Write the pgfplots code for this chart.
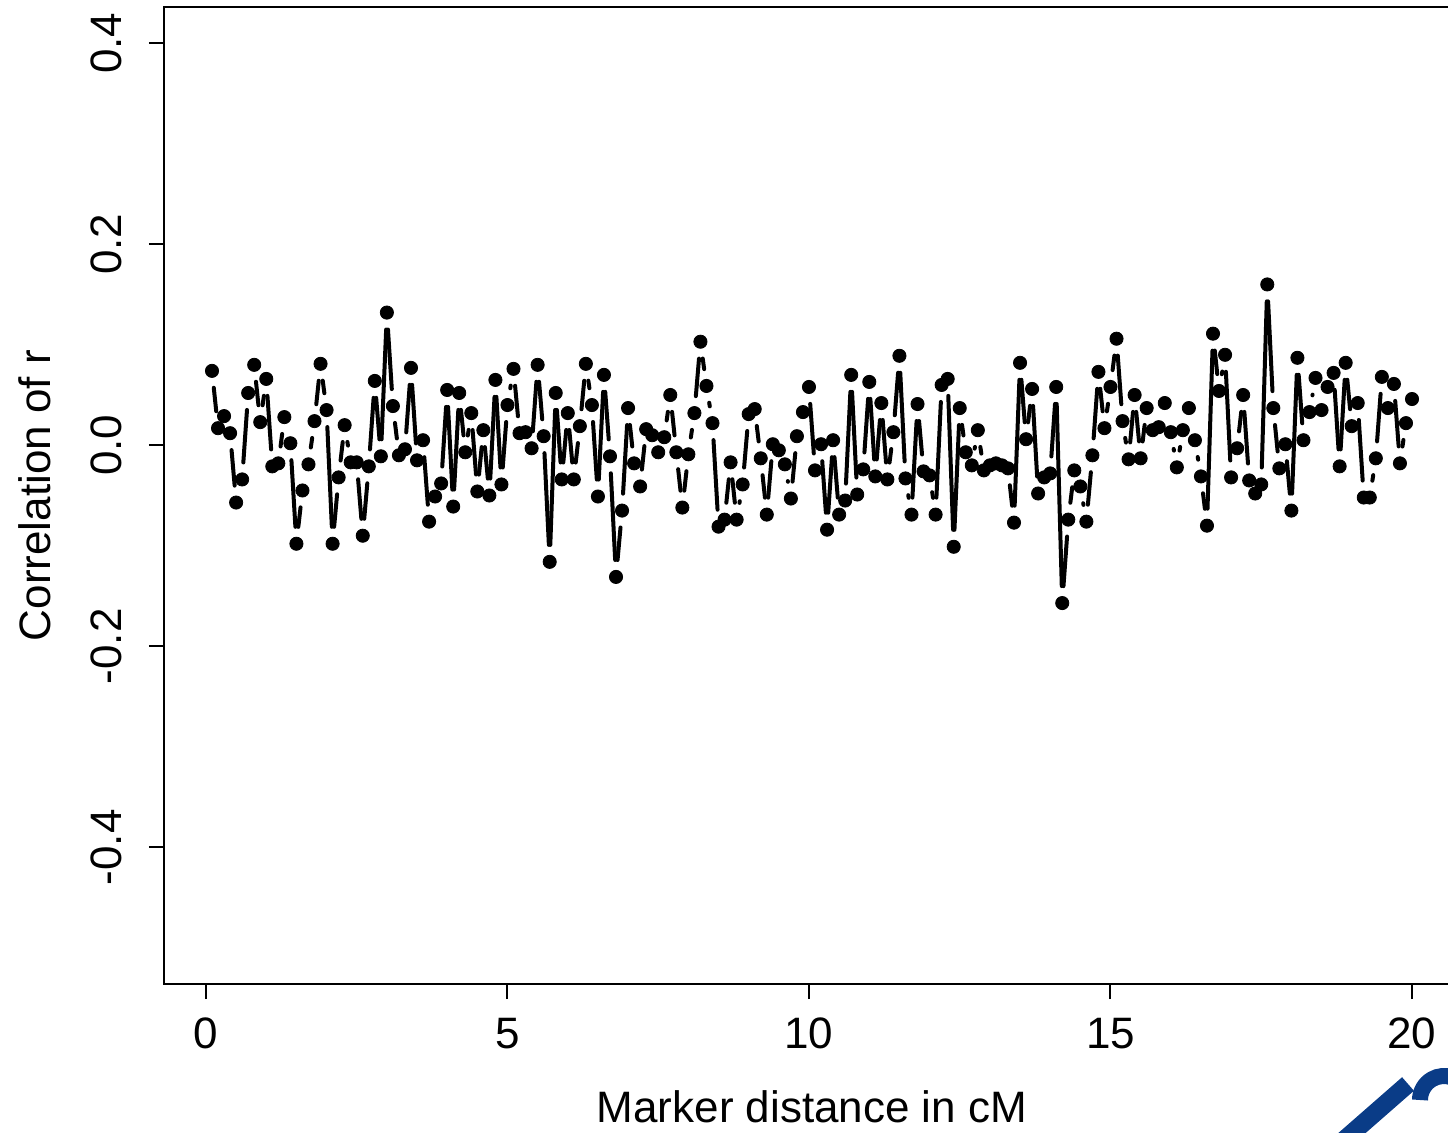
\documentclass[border=0pt]{standalone}
\usepackage{fontspec}
\setmainfont{Liberation Sans}
\usepackage{pgfplots}
\usepackage{pgfplotstable}
\pgfplotsset{compat=1.18}
\definecolor{logoblue}{RGB}{10,60,135}
\pgfplotstableread{
x y
0.1 0.074
0.2 0.017
0.3 0.029
0.4 0.012
0.5 -0.057
0.6 -0.034
0.7 0.052
0.8 0.080
0.9 0.023
1.0 0.066
1.1 -0.021
1.2 -0.018
1.3 0.028
1.4 0.002
1.5 -0.098
1.6 -0.045
1.7 -0.019
1.8 0.024
1.9 0.081
2.0 0.035
2.1 -0.098
2.2 -0.032
2.3 0.020
2.4 -0.017
2.5 -0.017
2.6 -0.090
2.7 -0.021
2.8 0.064
2.9 -0.011
3.0 0.132
3.1 0.039
3.2 -0.010
3.3 -0.004
3.4 0.077
3.5 -0.015
3.6 0.005
3.7 -0.076
3.8 -0.051
3.9 -0.038
4.0 0.055
4.1 -0.061
4.2 0.052
4.3 -0.007
4.4 0.032
4.5 -0.046
4.6 0.015
4.7 -0.050
4.8 0.065
4.9 -0.039
5.0 0.040
5.1 0.076
5.2 0.012
5.3 0.013
5.4 -0.003
5.5 0.080
5.6 0.009
5.7 -0.116
5.8 0.052
5.9 -0.034
6.0 0.032
6.1 -0.034
6.2 0.019
6.3 0.081
6.4 0.040
6.5 -0.051
6.6 0.070
6.7 -0.011
6.8 -0.131
6.9 -0.065
7.0 0.037
7.1 -0.018
7.2 -0.041
7.3 0.016
7.4 0.010
7.5 -0.007
7.6 0.008
7.7 0.050
7.8 -0.007
7.9 -0.062
8.0 -0.009
8.1 0.032
8.2 0.103
8.3 0.059
8.4 0.022
8.5 -0.081
8.6 -0.074
8.7 -0.017
8.8 -0.074
8.9 -0.039
9.0 0.031
9.1 0.036
9.2 -0.013
9.3 -0.069
9.4 0.001
9.5 -0.005
9.6 -0.019
9.7 -0.053
9.8 0.009
9.9 0.033
10.0 0.058
10.1 -0.025
10.2 0.001
10.3 -0.084
10.4 0.005
10.5 -0.069
10.6 -0.055
10.7 0.070
10.8 -0.049
10.9 -0.024
11.0 0.063
11.1 -0.031
11.2 0.042
11.3 -0.034
11.4 0.013
11.5 0.089
11.6 -0.033
11.7 -0.069
11.8 0.041
11.9 -0.026
12.0 -0.030
12.1 -0.069
12.2 0.060
12.3 0.066
12.4 -0.101
12.5 0.037
12.6 -0.007
12.7 -0.020
12.8 0.015
12.9 -0.025
13.0 -0.020
13.1 -0.018
13.2 -0.020
13.3 -0.023
13.4 -0.077
13.5 0.082
13.6 0.006
13.7 0.056
13.8 -0.048
13.9 -0.032
14.0 -0.028
14.1 0.058
14.2 -0.157
14.3 -0.074
14.4 -0.025
14.5 -0.041
14.6 -0.076
14.7 -0.010
14.8 0.073
14.9 0.017
15.0 0.058
15.1 0.106
15.2 0.024
15.3 -0.014
15.4 0.050
15.5 -0.013
15.6 0.037
15.7 0.015
15.8 0.018
15.9 0.042
16.0 0.013
16.1 -0.022
16.2 0.015
16.3 0.037
16.4 0.005
16.5 -0.031
16.6 -0.080
16.7 0.111
16.8 0.054
16.9 0.090
17.0 -0.032
17.1 -0.003
17.2 0.050
17.3 -0.035
17.4 -0.048
17.5 -0.039
17.6 0.160
17.7 0.037
17.8 -0.023
17.9 0.001
18.0 -0.065
18.1 0.087
18.2 0.005
18.3 0.033
18.4 0.067
18.5 0.035
18.6 0.058
18.7 0.072
18.8 -0.021
18.9 0.082
19.0 0.019
19.1 0.042
19.2 -0.052
19.3 -0.052
19.4 -0.013
19.5 0.068
19.6 0.037
19.7 0.061
19.8 -0.018
19.9 0.022
20.0 0.046
}\data
\begin{document}
\begin{tikzpicture}
\path[use as bounding box] (0,0) rectangle (724pt,566pt);
\clip (0,0) rectangle (724pt,566pt);
\begin{axis}[
  at={(82pt,74pt)}, anchor=south west,
  width=648pt, height=488.5pt, scale only axis,
  xmin=-0.696, xmax=20.796, ymin=-0.536, ymax=0.436,
  xtick={0,5,10,15,20}, xticklabels={0,5,10,15,20},
  ytick={-0.4,-0.2,0,0.2,0.4}, yticklabels={-0.4,-0.2,0.0,0.2,0.4},
  tick align=outside, major tick length=7.5pt,
  axis line style={line width=1pt},
  every tick/.style={line width=1pt, black},
  xtick pos=bottom, ytick pos=left,
  font=\fontsize{22}{26}\selectfont,
  tick label style={font=\fontsize{22}{26}\selectfont},
  xticklabel shift=6pt, yticklabel shift=10pt,
  yticklabel style={rotate=90, anchor=south},
  xlabel={Marker distance in cM}, ylabel={Correlation of r},
  xlabel style={at={(axis description cs:0.5,-0.1259)}, anchor=center},
  ylabel style={at={(axis description cs:-0.0995,0.5)}, anchor=center, rotate=0},
]
\pgfplotsforeachungrouped \i in {0,...,198}{%
  \pgfmathtruncatemacro\j{\i+1}%
  \pgfplotstablegetelem{\i}{x}\of\data \let\xa\pgfplotsretval
  \pgfplotstablegetelem{\i}{y}\of\data \let\ya\pgfplotsretval
  \pgfplotstablegetelem{\j}{x}\of\data \let\xb\pgfplotsretval
  \pgfplotstablegetelem{\j}{y}\of\data \let\yb\pgfplotsretval
  \pgfmathsetmacro\seglen{veclen(3.015,502.5*(\yb-\ya))}%
  \pgfmathtruncatemacro\dodraw{\seglen>17}%
  \ifnum\dodraw=1
    \edef\temp{\noexpand\addplot[black, line width=2pt, line cap=round, shorten <=8.5pt, shorten >=8.5pt, forget plot] coordinates {(\xa,\ya) (\xb,\yb)};}%
    \temp
  \fi
}
\addplot[only marks, mark=*, mark size=3.3pt, mark options={draw=black, fill=black}] table[x=x,y=y] {\data};
\end{axis}
\draw[logoblue, line width=9pt] (672pt,-4pt) -- (704pt,24pt);
\draw[logoblue, line width=8pt] (710pt,16pt) arc[start angle=180, end angle=70, radius=12pt];
\end{tikzpicture}
\end{document}
